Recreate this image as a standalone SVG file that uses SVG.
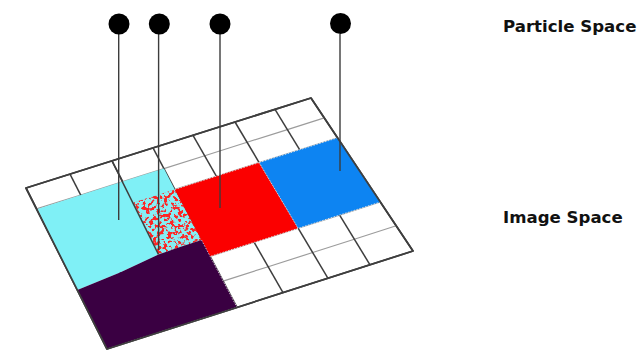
<svg xmlns="http://www.w3.org/2000/svg" width="642" height="354" viewBox="0 0 642 354">
  <style>
    .col { stroke: #3e3e3e; stroke-width: 1.5; fill: none; }
    .row { stroke: #9c9c9c; stroke-width: 1.2; fill: none; }
    .border { stroke: #3e3e3e; stroke-width: 1.7; fill: #ffffff; stroke-linejoin: round; }
    .blockedge { stroke: #ffffff; stroke-width: 1; stroke-dasharray: 1.5 1.5; stroke-opacity: 0.7; }
    .stem { stroke: #3c3c3c; stroke-width: 1.4; }
    .ball { fill: #000000; }
    .label { font-family: "DejaVu Sans", "Liberation Sans", sans-serif; font-weight: bold; font-size: 16.6px; fill: #111111; }
  </style>
  <defs>
    <filter id="speckle" x="0" y="0" width="1" height="1">
      <feTurbulence type="fractalNoise" baseFrequency="0.28" numOctaves="2" seed="7" result="n"/>
      <feColorMatrix in="n" type="matrix" values="0 0 0 0 0.98  0 0 0 0 0.02  0 0 0 0 0.02  12 0 0 0 -6.0" result="red"/>
      <feComposite in="red" in2="SourceGraphic" operator="in"/>
    </filter>
  </defs>
  <rect width="642" height="354" fill="#ffffff"/>

  <g id="grid">
    <polygon class="border" points="26,188 311,98 413,251 107,349"/>
    <polyline class="row" points="36.5,208.9 80.7,195.0 122.8,181.6 163.9,168.6 204.7,155.8 247.1,142.3 287.4,129.6 324.3,117.9"/>
    <polyline class="row" points="47.1,229.9 91.3,215.8 133.6,202.4 174.8,189.4 216.4,176.2 259.2,162.6 299.7,149.8 337.5,137.8"/>
    <polyline class="row" points="58.0,251.6 102.4,237.5 144.8,224.0 186.2,210.9 228.6,197.5 271.7,183.7 312.5,170.8 351.3,158.4"/>
    <polyline class="row" points="69.3,274.1 113.9,260.0 156.4,246.4 197.9,233.2 241.2,219.5 284.8,205.6 325.8,192.5 365.6,179.9"/>
    <polyline class="row" points="81.1,297.5 125.8,283.2 168.4,269.6 210.1,256.4 254.2,242.3 298.2,228.3 339.6,215.1 380.4,202.0"/>
    <polyline class="row" points="93.6,322.4 138.5,308.1 181.3,294.4 223.1,281.1 268.2,266.7 312.7,252.5 354.3,239.2 396.2,225.8"/>
    <line class="col" x1="70" y1="174.1" x2="152" y2="334.6"/>
    <line class="col" x1="112" y1="160.8" x2="195" y2="320.8"/>
    <line class="col" x1="153" y1="147.9" x2="237" y2="307.4"/>
    <line class="col" x1="193" y1="135.3" x2="283" y2="292.7"/>
    <line class="col" x1="235" y1="122" x2="328" y2="278.3"/>
    <line class="col" x1="275" y1="109.4" x2="370" y2="264.8"/>
  </g>

  <g id="block-cyan">
    <polygon fill="#7ff0f6" points="37.5,209 122.8,181.6 163.9,168.6 174.8,189.4 133.6,202.4 158.5,254.5 120,272.5 77.3,290"/>
  </g>

  <g id="block-mixed">
    <polygon fill="#86eef4" points="133.6,202.4 174.8,189.4 201.5,240 158.5,254.5"/>
    <polygon fill="#ffffff" filter="url(#speckle)" points="133.6,202.4 174.8,189.4 201.5,240 158.5,254.5"/>
  </g>

  <g id="block-red">
    <polygon fill="#fb0000" points="174.8,189.4 259.2,162.6 298.2,228.3 210.1,256.4"/>
    <polyline class="blockedge" fill="none" points="174.8,189.4 259.2,162.6 298.2,228.3 210.1,256.4"/>
  </g>

  <g id="block-blue">
    <polygon fill="#0d84f2" points="259.2,162.6 337.5,137.8 380.4,202.0 298.2,228.3"/>
    <polygon class="blockedge" fill="none" points="259.2,162.6 337.5,137.8 380.4,202.0 298.2,228.3"/>
  </g>

  <g id="block-purple">
    <polygon fill="#3a0042" points="77.3,290 120,272.5 158.5,254.5 180,247 201.5,240 237,307.4 107,349"/>
    <polyline fill="none" stroke="#d8b8d8" stroke-width="0.9" stroke-dasharray="1.5 1.5" points="201.5,240 237,307.4 107,349"/>
  </g>

  <g id="grid-overlay">
    <line class="col" x1="112" y1="160.8" x2="158.5" y2="254.5"/>
    <polygon points="26,188 311,98 413,251 107,349" fill="none" stroke="#3e3e3e" stroke-width="1.7" stroke-linejoin="round"/>
  </g>

  <g id="connectors">
    <line class="stem" x1="118.7" y1="34" x2="118.7" y2="220"/>
    <line class="stem" x1="158.6" y1="34" x2="158.6" y2="250"/>
    <line class="stem" x1="220" y1="34" x2="220" y2="208"/>
    <line class="stem" x1="340" y1="34" x2="340" y2="171"/>
  </g>

  <g id="particle-1"><circle class="ball" cx="119" cy="24" r="10.5"/></g>
  <g id="particle-2"><circle class="ball" cx="159.3" cy="24" r="10.5"/></g>
  <g id="particle-3"><circle class="ball" cx="220" cy="24" r="10.5"/></g>
  <g id="particle-4"><circle class="ball" cx="340.5" cy="23.5" r="10.5"/></g>

  <g id="labels">
    <text class="label" x="503" y="31.5">Particle Space</text>
    <text class="label" x="503" y="223">Image Space</text>
  </g>
</svg>
